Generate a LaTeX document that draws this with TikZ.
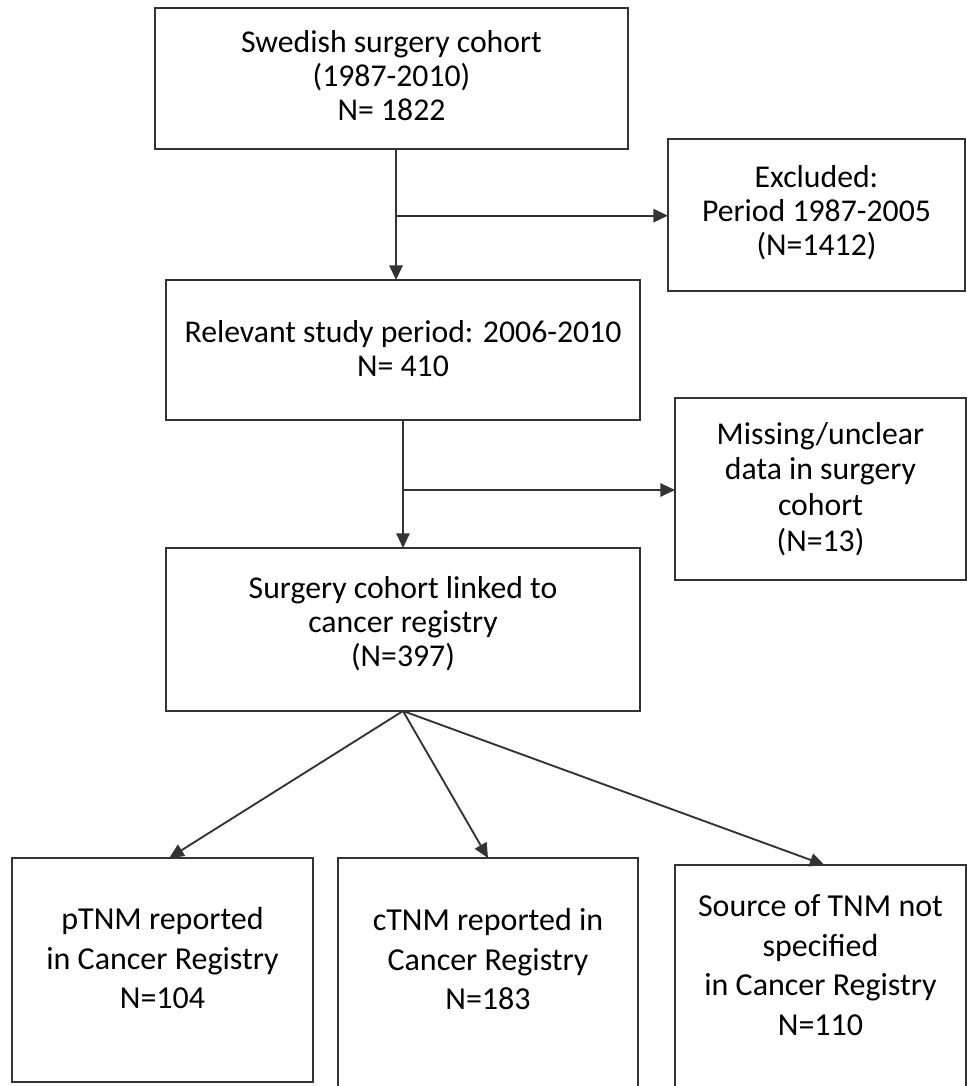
\documentclass[tikz,border=0pt]{standalone}
\usepackage{fontspec}
\setmainfont{Carlito}
\usetikzlibrary{arrows.meta}
\begin{document}
\begin{tikzpicture}[x=0.75pt,y=-0.75pt,
  box/.style={draw=black!80,line width=1.4pt,rectangle,inner sep=0pt,outer sep=0pt},
  lbl/.style={align=center,inner sep=0pt,font=\fontsize{23.8}{25.5}\selectfont},
  lblb/.style={align=center,inner sep=0pt,font=\fontsize{24}{29.6}\selectfont},
  arr/.style={draw=black!80,line width=1.4pt,-{Triangle[length=11pt,width=10pt]}},
  ln/.style={draw=black!80,line width=1.4pt}]
\useasboundingbox (0,0) rectangle (967,1086);
\clip (0,0) rectangle (967,1086);
\node[box,minimum width=354.75pt,minimum height=105.75pt] (b1) at (391.5,78.5) {};
\node[lbl] (t1) at (391.5,76) {Swedish surgery cohort\\(1987-2010)\\N= 1822};
\node[box,minimum width=222.75pt,minimum height=114pt] (ex) at (816.5,215) {};
\node[lbl] (tex) at (816.5,213) {Excluded:\\Period 1987-2005\\(N=1412)};
\node[box,minimum width=355.5pt,minimum height=105pt] (b2) at (403,350) {};
\node[lbl] (t2) at (403,349) {Relevant study period: 2006-2010\\N= 410};
\node[box,minimum width=218.25pt,minimum height=136.5pt] (mi) at (820.5,489) {};
\node[lbl,font=\fontsize{23.8}{26.8}\selectfont] (tmi) at (820.5,489) {Missing/unclear\\data in surgery\\cohort\\(N=13)};
\node[box,minimum width=355.5pt,minimum height=122.25pt] (b3) at (403,629.5) {};
\node[lbl] (t3) at (403,624) {Surgery cohort linked to\\cancer registry\\(N=397)};
\node[box,minimum width=225.75pt,minimum height=168pt] (p1) at (162.5,970) {};
\node[lblb] (tp1) at (162.5,958) {pTNM reported\\in Cancer Registry\\N=104};
\node[box,minimum width=225pt,minimum height=174pt] (p2) at (488,974) {};
\node[lblb] (tp2) at (488,959) {cTNM reported\ in\\Cancer Registry\\N=183};
\node[box,minimum width=218.25pt,minimum height=168pt] (p3) at (820.5,977) {};
\node[lblb] (tp3) at (820.5,965) {Source of TNM not\\specified\\in Cancer Registry\\N=110};
% connectors
\coordinate (s1) at ([xshift=3.4pt]b1.south);
\draw[arr] (s1) -- (s1 |- b2.north);
\coordinate (j1) at ([yshift=-50pt]s1);
\draw[arr] (j1) -- (j1 -| ex.west);
\draw[arr] (b2.south) -- (b3.north);
\coordinate (j2) at ([yshift=-52.5pt]b2.south);
\draw[arr] (j2) -- (j2 -| mi.west);
\draw[arr] (b3.south) -- ([xshift=5pt]p1.north);
\draw[arr] (b3.south) -- (p2.north);
\draw[arr] (b3.south) -- ([xshift=3pt]p3.north);
\end{tikzpicture}
\end{document}
